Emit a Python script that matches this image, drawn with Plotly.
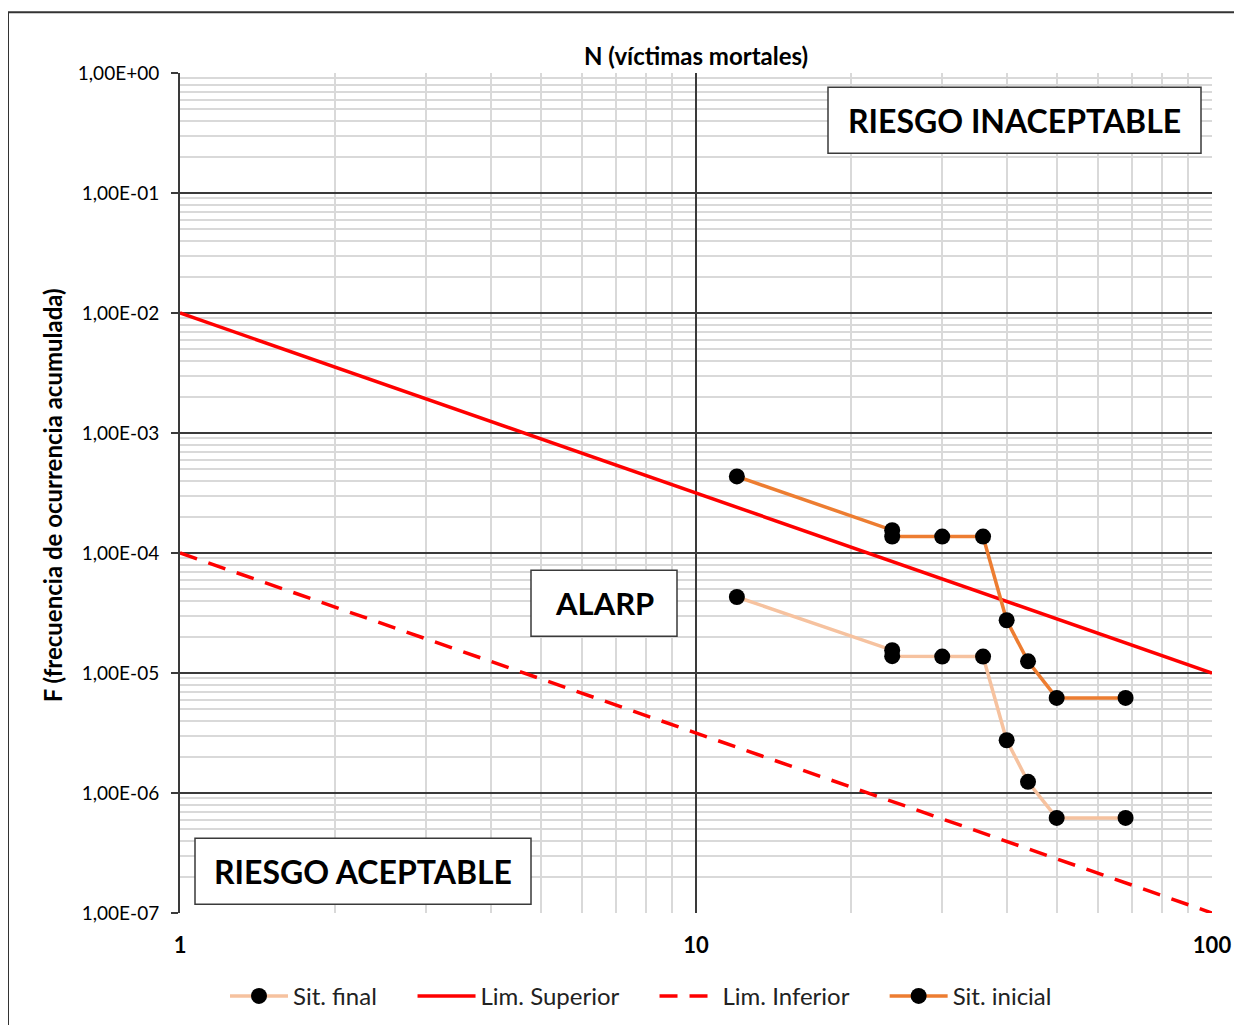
import plotly.graph_objects as go

# ---------------- data ----------------
n_sit = [12, 24, 24, 30, 36, 40, 44, 50, 68]
f_inicial = [4.35e-4, 1.55e-4, 1.37e-4, 1.37e-4, 1.37e-4, 2.75e-5, 1.25e-5, 6.2e-6, 6.2e-6]
f_final = [4.3e-5, 1.55e-5, 1.38e-5, 1.37e-5, 1.37e-5, 2.75e-6, 1.24e-6, 6.2e-7, 6.2e-7]
n_lim = [1, 100]
f_lim_sup = [1e-2, 1e-5]
f_lim_inf = [1e-4, 1e-7]

y_tickvals = [1e-7, 1e-6, 1e-5, 1e-4, 1e-3, 1e-2, 1e-1, 1e0]
y_ticktext = ["1,00E-07", "1,00E-06", "1,00E-05", "1,00E-04",
              "1,00E-03", "1,00E-02", "1,00E-01", "1,00E+00"]
x_tickvals = [1, 10, 100]
x_ticktext = ["1", "10", "100"]

# ---------------- layout geometry (reference pixels) ----------------
OFF = 8                      # page body margin
W, H = 1242 - OFF, 1025 - OFF
PL, PR, PT, PB = 180, 1212, 72.7, 912.7   # plot area in reference pixels


def px(x):
    return (x - PL) / (PR - PL)


def py(y):
    return (PB - y) / (PB - PT)


FONT = "Lato"
DARK = "#3a3a3a"
LIGHT = "#d9d9d9"
PAD = "&nbsp;" * 5

fig = go.Figure()
fig.add_trace(go.Scatter(x=n_sit, y=f_final, name="Sit. final" + PAD, mode="lines+markers",
                         line=dict(color="#F6C29F", width=3.5),
                         marker=dict(color="black", size=16)))
fig.add_trace(go.Scatter(x=n_lim, y=f_lim_sup, name="Lim. Superior" + PAD, mode="lines",
                         line=dict(color="#FF0000", width=3.5)))
fig.add_trace(go.Scatter(x=n_lim, y=f_lim_inf, name="Lim. Inferior" + PAD, mode="lines",
                         line=dict(color="#FF0000", width=3.5, dash="18px,12px")))
fig.add_trace(go.Scatter(x=n_sit, y=f_inicial, name="Sit. inicial", mode="lines+markers",
                         line=dict(color="#ED7D31", width=3.5),
                         marker=dict(color="black", size=16)))

fig.update_layout(
    width=W, height=H,
    margin=dict(l=PL - OFF, r=1242 - PR, t=PT - OFF, b=H - (PB - OFF), autoexpand=False),
    paper_bgcolor="white", plot_bgcolor="white",
    font=dict(family=FONT, color="black", size=16),
    showlegend=True,
    legend=dict(orientation="h", x=px(641), xanchor="center", y=py(996), yanchor="middle",
                font=dict(size=24, family=FONT, color="#222222"), itemwidth=58,
                traceorder="normal"),
    xaxis=dict(type="log", range=[0, 2], tickmode="array", tickvals=x_tickvals,
               ticktext=x_ticktext, showgrid=True, gridcolor=DARK, gridwidth=1.5,
               minor=dict(dtick="D1", showgrid=True, gridcolor=LIGHT, gridwidth=1.5),
               showline=True, linecolor="white", linewidth=1,
               ticks="outside", ticklen=13, tickcolor="rgba(0,0,0,0)",
               tickfont=dict(size=22, family=FONT, weight="bold"), zeroline=False),
    xaxis2=dict(type="log", range=[0, 2], overlaying="x", matches="x", side="top",
                tickmode="array", tickvals=x_tickvals, showticklabels=False,
                showgrid=False, showline=True, linecolor=DARK, linewidth=2,
                ticks="outside", ticklen=7, tickcolor=DARK, tickwidth=2),
    yaxis=dict(type="log", range=[-7, 0], tickmode="array", tickvals=y_tickvals,
               ticktext=y_ticktext, showgrid=True, gridcolor=DARK, gridwidth=1.5,
               minor=dict(dtick="D1", showgrid=True, gridcolor=LIGHT, gridwidth=1.5),
               showline=True, linecolor=DARK, linewidth=2,
               ticks="outside", ticklen=7, tickcolor=DARK, tickwidth=2,
               ticklabelstandoff=8, tickfont=dict(size=19, family=FONT), zeroline=False),
)

# boxes
boxes = [
    ("RIESGO INACEPTABLE", 828, 87, 1201, 153, 32),
    ("ALARP", 531, 570, 677, 636, 31),
    ("RIESGO ACEPTABLE", 195, 838, 531, 904, 32),
]
for txt, x0, y0, x1, y1, fs in boxes:
    fig.add_shape(type="rect", xref="paper", yref="paper",
                  x0=px(x0), x1=px(x1), y0=py(y1), y1=py(y0),
                  line=dict(color=DARK, width=1.5), fillcolor="white", layer="above")
    fig.add_annotation(xref="paper", yref="paper", x=px((x0 + x1) / 2), y=py((y0 + y1) / 2),
                       text="<b>%s</b>" % txt, showarrow=False,
                       font=dict(size=fs, family=FONT, color="black"),
                       xanchor="center", yanchor="middle")

# axis titles
fig.add_annotation(xref="paper", yref="paper", x=px(696), y=py(55),
                   text="<b>N (víctimas mortales)</b>", showarrow=False,
                   font=dict(size=24, family=FONT), xanchor="center", yanchor="middle")
fig.add_annotation(xref="paper", yref="paper", x=px(52), y=py(495),
                   text="<b>F (frecuencia de ocurrencia acumulada)</b>", showarrow=False,
                   textangle=-90, font=dict(size=24, family=FONT),
                   xanchor="center", yanchor="middle")

# outer frame
fig.add_shape(type="rect", xref="paper", yref="paper",
              x0=px(8), x1=px(1270), y0=py(1050), y1=py(12),
              line=dict(color="#333333", width=2), fillcolor="rgba(0,0,0,0)", layer="above")

fig.write_html("out.html")
